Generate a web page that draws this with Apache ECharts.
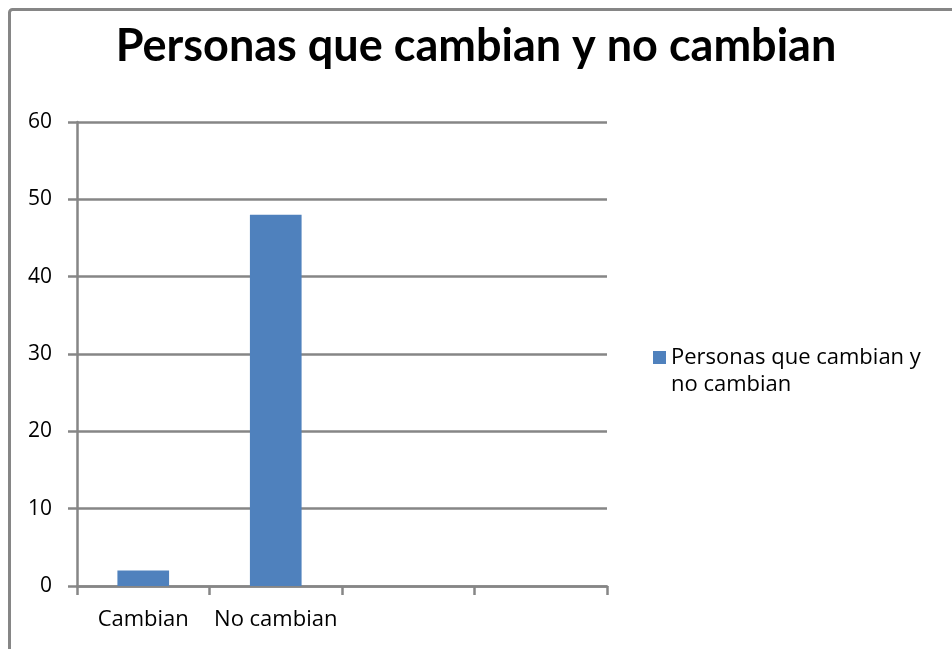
<!DOCTYPE html>
<html>
<head>
<meta charset="utf-8">
<script src="https://cdn.jsdelivr.net/npm/echarts@6/dist/echarts.min.js"></script>
<style>
  html, body { margin: 0; padding: 0; background: #fff; }
  #chart { width: 952px; height: 649px; }
</style>
</head>
<body>
<div id="chart"></div>
<script>
// Categories along the x axis (two unused slots keep the four-column layout)
const categories = ['Cambian', 'No cambian', '', ''];
// Number of people in each category
const personas = [2, 48, null, null];
const seriesName = 'Personas que cambian y no cambian';
// Legend label, wrapped over two lines
const legendLines = ['Personas que cambian y', 'no cambian'];

const chart = echarts.init(document.getElementById('chart'));
const axisGray = '#868686';
const titleFont = 'Lato, "Open Sans", sans-serif';
const font = '"Open Sans", Lato, sans-serif';

chart.setOption({
  animation: false,
  backgroundColor: '#ffffff',
  title: {
    text: seriesName,
    left: 'center',
    top: 19,
    textStyle: { fontFamily: titleFont, fontWeight: 'bold', fontSize: 45, color: '#000' }
  },
  legend: {
    left: 653,
    top: 344,
    padding: 0,
    orient: 'vertical',
    itemWidth: 13,
    itemHeight: 13,
    itemGap: 5,
    icon: 'rect',
    formatter: () => legendLines[0],
    textStyle: { fontFamily: font, fontSize: 22, color: '#000', lineHeight: 27 }
  },
  grid: { left: 77, right: 345, top: 122, bottom: 63, containLabel: false },
  xAxis: {
    type: 'category',
    data: categories,
    boundaryGap: true,
    axisLine: { lineStyle: { color: axisGray, width: 2.5 } },
    axisTick: { show: true, interval: 0, length: 9, alignWithLabel: false, lineStyle: { color: axisGray, width: 2.5 } },
    axisLabel: { interval: 0, fontFamily: font, fontSize: 22, color: '#000', margin: 23 },
    splitLine: { show: false }
  },
  yAxis: {
    type: 'value',
    min: 0,
    max: 60,
    interval: 10,
    axisLine: { show: true, lineStyle: { color: axisGray, width: 2.5 } },
    axisTick: { show: true, length: 9, lineStyle: { color: axisGray, width: 2.5 } },
    axisLabel: { fontFamily: font, fontSize: 21, color: '#000', margin: 25 },
    splitLine: { show: true, lineStyle: { color: axisGray, width: 2.5 } }
  },
  graphic: [{
    type: 'rect',
    silent: true,
    z: 100,
    shape: { x: 9.5, y: 9.5, width: 1000, height: 700, r: 3 },
    style: { fill: 'none', stroke: axisGray, lineWidth: 3 }
  }, {
    // second line of the legend label
    type: 'text',
    silent: true,
    left: 671,
    top: 374,
    style: { text: legendLines[1], fontFamily: font, fontSize: 22, fill: '#000' }
  }],
  series: [{
    name: seriesName,
    type: 'bar',
    data: personas,
    barWidth: '39%',
    itemStyle: { color: '#4F81BD' }
  }]
});
</script>
</body>
</html>
